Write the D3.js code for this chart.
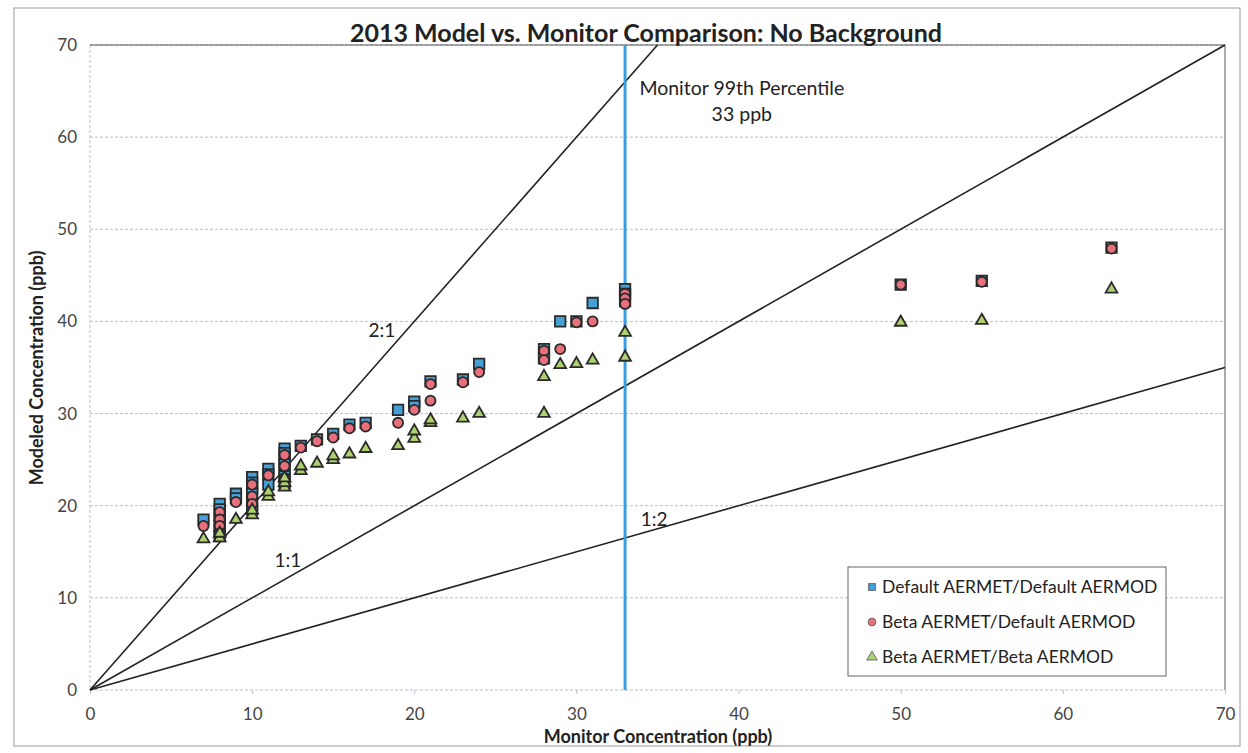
<!DOCTYPE html>
<html>
<head>
<meta charset="utf-8">
<script src="https://cdn.jsdelivr.net/npm/d3@7.9.0/dist/d3.min.js"></script>
<style>
  body { margin: 0; background: #fff; }
  svg text { font-family: Lato, "Open Sans", sans-serif; fill: #222; }
</style>
</head>
<body>
<svg width="1248" height="753"></svg>
<script>
// series: [monitor, modeled] pairs
const defaultDefault = [
  [7, 18.5], [8, 20.2], [8, 19.6], [8, 19.0], [8, 18.4], [8, 17.8], [8, 17.2], [8, 16.7],
  [9, 21.3], [9, 20.8], [10, 23.1], [10, 22.5], [10, 21.9], [10, 21.3], [10, 20.2], [10, 19.6],
  [11, 24.0], [11, 23.4], [11, 22.3], [12, 26.2], [12, 25.7], [12, 25.1], [12, 24.5], [12, 23.9], [12, 23.2], [12, 22.5],
  [13, 26.5], [14, 27.2], [15, 27.8], [16, 28.8], [17, 29.0], [19, 30.4], [20, 31.3], [20, 30.8],
  [21, 33.5], [23, 33.7], [24, 35.4], [28, 37.0], [28, 36.0], [29, 40.0], [30, 40.0], [31, 42.0],
  [33, 43.5], [33, 43.0], [33, 42.2], [50, 44.0], [55, 44.4], [63, 48.0]
];
const betaDefault = [
  [7, 17.8], [8, 19.3], [8, 18.5], [8, 17.8], [8, 17.0], [9, 20.4],
  [10, 22.3], [10, 21.0], [10, 20.2], [11, 23.3], [12, 25.5], [12, 24.3], [12, 23.0],
  [13, 26.3], [14, 27.0], [15, 27.4], [16, 28.4], [17, 28.6], [19, 29.0], [20, 30.4],
  [21, 33.2], [21, 31.4], [23, 33.4], [24, 34.5], [28, 36.8], [28, 35.8], [29, 37.0],
  [30, 39.9], [31, 40.0], [33, 43.0], [33, 42.5], [33, 41.9], [50, 44.0], [55, 44.3], [63, 47.9]
];
const betaBeta = [
  [7, 16.4], [8, 16.5], [8, 17.0], [9, 18.5], [10, 19.0], [10, 19.5], [11, 21.0], [11, 21.5],
  [12, 22.0], [12, 22.5], [12, 23.0], [13, 23.8], [13, 24.3], [14, 24.6], [15, 25.0], [15, 25.4],
  [16, 25.6], [17, 26.2], [19, 26.5], [20, 27.3], [20, 28.1], [21, 29.0], [21, 29.3], [23, 29.5],
  [24, 30.0], [28, 34.0], [28, 30.0], [29, 35.3], [30, 35.4], [31, 35.8], [33, 38.8], [33, 36.1],
  [50, 39.9], [55, 40.1], [63, 43.5]
];
const seriesNames = ["Default AERMET/Default AERMOD", "Beta AERMET/Default AERMOD", "Beta AERMET/Beta AERMOD"];
const ratioLines = [{ label: "2:1", slope: 2 }, { label: "1:1", slope: 1 }, { label: "1:2", slope: 0.5 }];
const monitor99 = 33;
const ticks = [0, 10, 20, 30, 40, 50, 60, 70];

const svg = d3.select("svg");
const m = { left: 90, right: 1225, top: 45, bottom: 690 };
const x = d3.scaleLinear().domain([0, 70]).range([m.left, m.right]);
const y = d3.scaleLinear().domain([0, 70]).range([m.bottom, m.top]);

// outer chart border
svg.append("rect").attr("x", 14).attr("y", 8).attr("width", 1226).attr("height", 738)
  .attr("fill", "none").attr("stroke", "#999").attr("stroke-width", 1);

// gridlines
svg.append("g").selectAll("line").data(ticks).join("line")
  .attr("x1", m.left).attr("x2", m.right)
  .attr("y1", d => y(d)).attr("y2", d => y(d))
  .attr("stroke", "#b3c0d4").attr("stroke-dasharray", "3,2");
svg.append("line").attr("x1", m.left).attr("x2", m.left).attr("y1", m.top).attr("y2", m.bottom)
  .attr("stroke", "#b3c0d4").attr("stroke-dasharray", "3,2");
// plot area top / right border
svg.append("path").attr("d", `M${m.left},${m.top}H${m.right}V${m.bottom}`)
  .attr("fill", "none").attr("stroke", "#555");

// axes
const xAxis = svg.append("g").attr("transform", `translate(0,${m.bottom})`)
  .call(d3.axisBottom(x).tickValues(ticks).tickSize(4).tickPadding(14));
const yAxis = svg.append("g").attr("transform", `translate(${m.left},0)`)
  .call(d3.axisLeft(y).tickValues(ticks).tickSize(0).tickPadding(13));
[xAxis, yAxis].forEach(a => {
  a.select(".domain").remove();
  a.selectAll("line").attr("stroke", "#b3c0d4");
  a.selectAll("text").attr("font-size", 17).style("fill", "#444")
    .attr("font-family", "Lato, 'Open Sans', sans-serif");
});

// ratio lines
ratioLines.forEach(r => {
  const xEnd = Math.min(70, 70 / r.slope);
  svg.append("line")
    .attr("x1", x(0)).attr("y1", y(0))
    .attr("x2", x(xEnd)).attr("y2", y(xEnd * r.slope))
    .attr("stroke", "#222").attr("stroke-width", 1.6);
});
svg.append("text").attr("x", x(18)).attr("y", y(38.3)).attr("text-anchor", "middle").attr("font-size", 19).text("2:1");
svg.append("text").attr("x", x(12.2)).attr("y", y(13.3)).attr("text-anchor", "middle").attr("font-size", 19).text("1:1");
svg.append("text").attr("x", x(34.8)).attr("y", y(17.8)).attr("text-anchor", "middle").attr("font-size", 19).text("1:2");

// monitor 99th percentile line
svg.append("line").attr("x1", x(monitor99)).attr("x2", x(monitor99)).attr("y1", m.top).attr("y2", m.bottom)
  .attr("stroke", "#3a9de0").attr("stroke-width", 3);
svg.append("text").attr("x", x(40.2)).attr("y", y(64.6)).attr("text-anchor", "middle").attr("font-size", 19.5)
  .text("Monitor 99th Percentile");
svg.append("text").attr("x", x(40.2)).attr("y", y(61.8)).attr("text-anchor", "middle").attr("font-size", 19.5)
  .text(`${monitor99} ppb`);

// markers
const styles = [
  { data: defaultDefault, type: d3.symbolSquare, size: 110, fill: "#45a0d6" },
  { data: betaDefault, type: d3.symbolCircle, size: 80, fill: "#e8707c" },
  { data: betaBeta, type: d3.symbolTriangle, size: 60, fill: "#aed06e" }
];
styles.forEach(s => {
  svg.append("g").selectAll("path").data(s.data).join("path")
    .attr("d", d3.symbol().type(s.type).size(s.size))
    .attr("transform", d => `translate(${x(d[0])},${y(d[1])})`)
    .attr("fill", s.fill).attr("stroke", "#2a2a2a").attr("stroke-width", 1.8);
});

// legend
const lg = svg.append("g").attr("transform", "translate(848,567)");
lg.append("rect").attr("width", 318).attr("height", 109).attr("fill", "#fff").attr("stroke", "#666");
seriesNames.forEach((name, i) => {
  const row = lg.append("g").attr("transform", `translate(24,${20 + i * 35})`);
  row.append("path").attr("d", d3.symbol().type(styles[i].type).size(48))
    .attr("fill", styles[i].fill).attr("stroke", "#555").attr("stroke-width", 0.8);
  row.append("text").attr("x", 10).attr("dy", "0.35em").attr("font-size", 17.5).text(name);
});

// titles
svg.append("text").attr("x", 646).attr("y", 42).attr("text-anchor", "middle")
  .attr("font-size", 25).attr("font-weight", "bold").text("2013 Model vs. Monitor Comparison: No Background");
svg.append("text").attr("x", 658).attr("y", 743).attr("text-anchor", "middle")
  .attr("font-size", 18).attr("font-weight", "bold").text("Monitor Concentration (ppb)");
svg.append("text").attr("transform", "translate(43,368) rotate(-90)").attr("text-anchor", "middle")
  .attr("font-size", 18).attr("font-weight", "bold").text("Modeled Concentration (ppb)");
</script>
</body>
</html>
